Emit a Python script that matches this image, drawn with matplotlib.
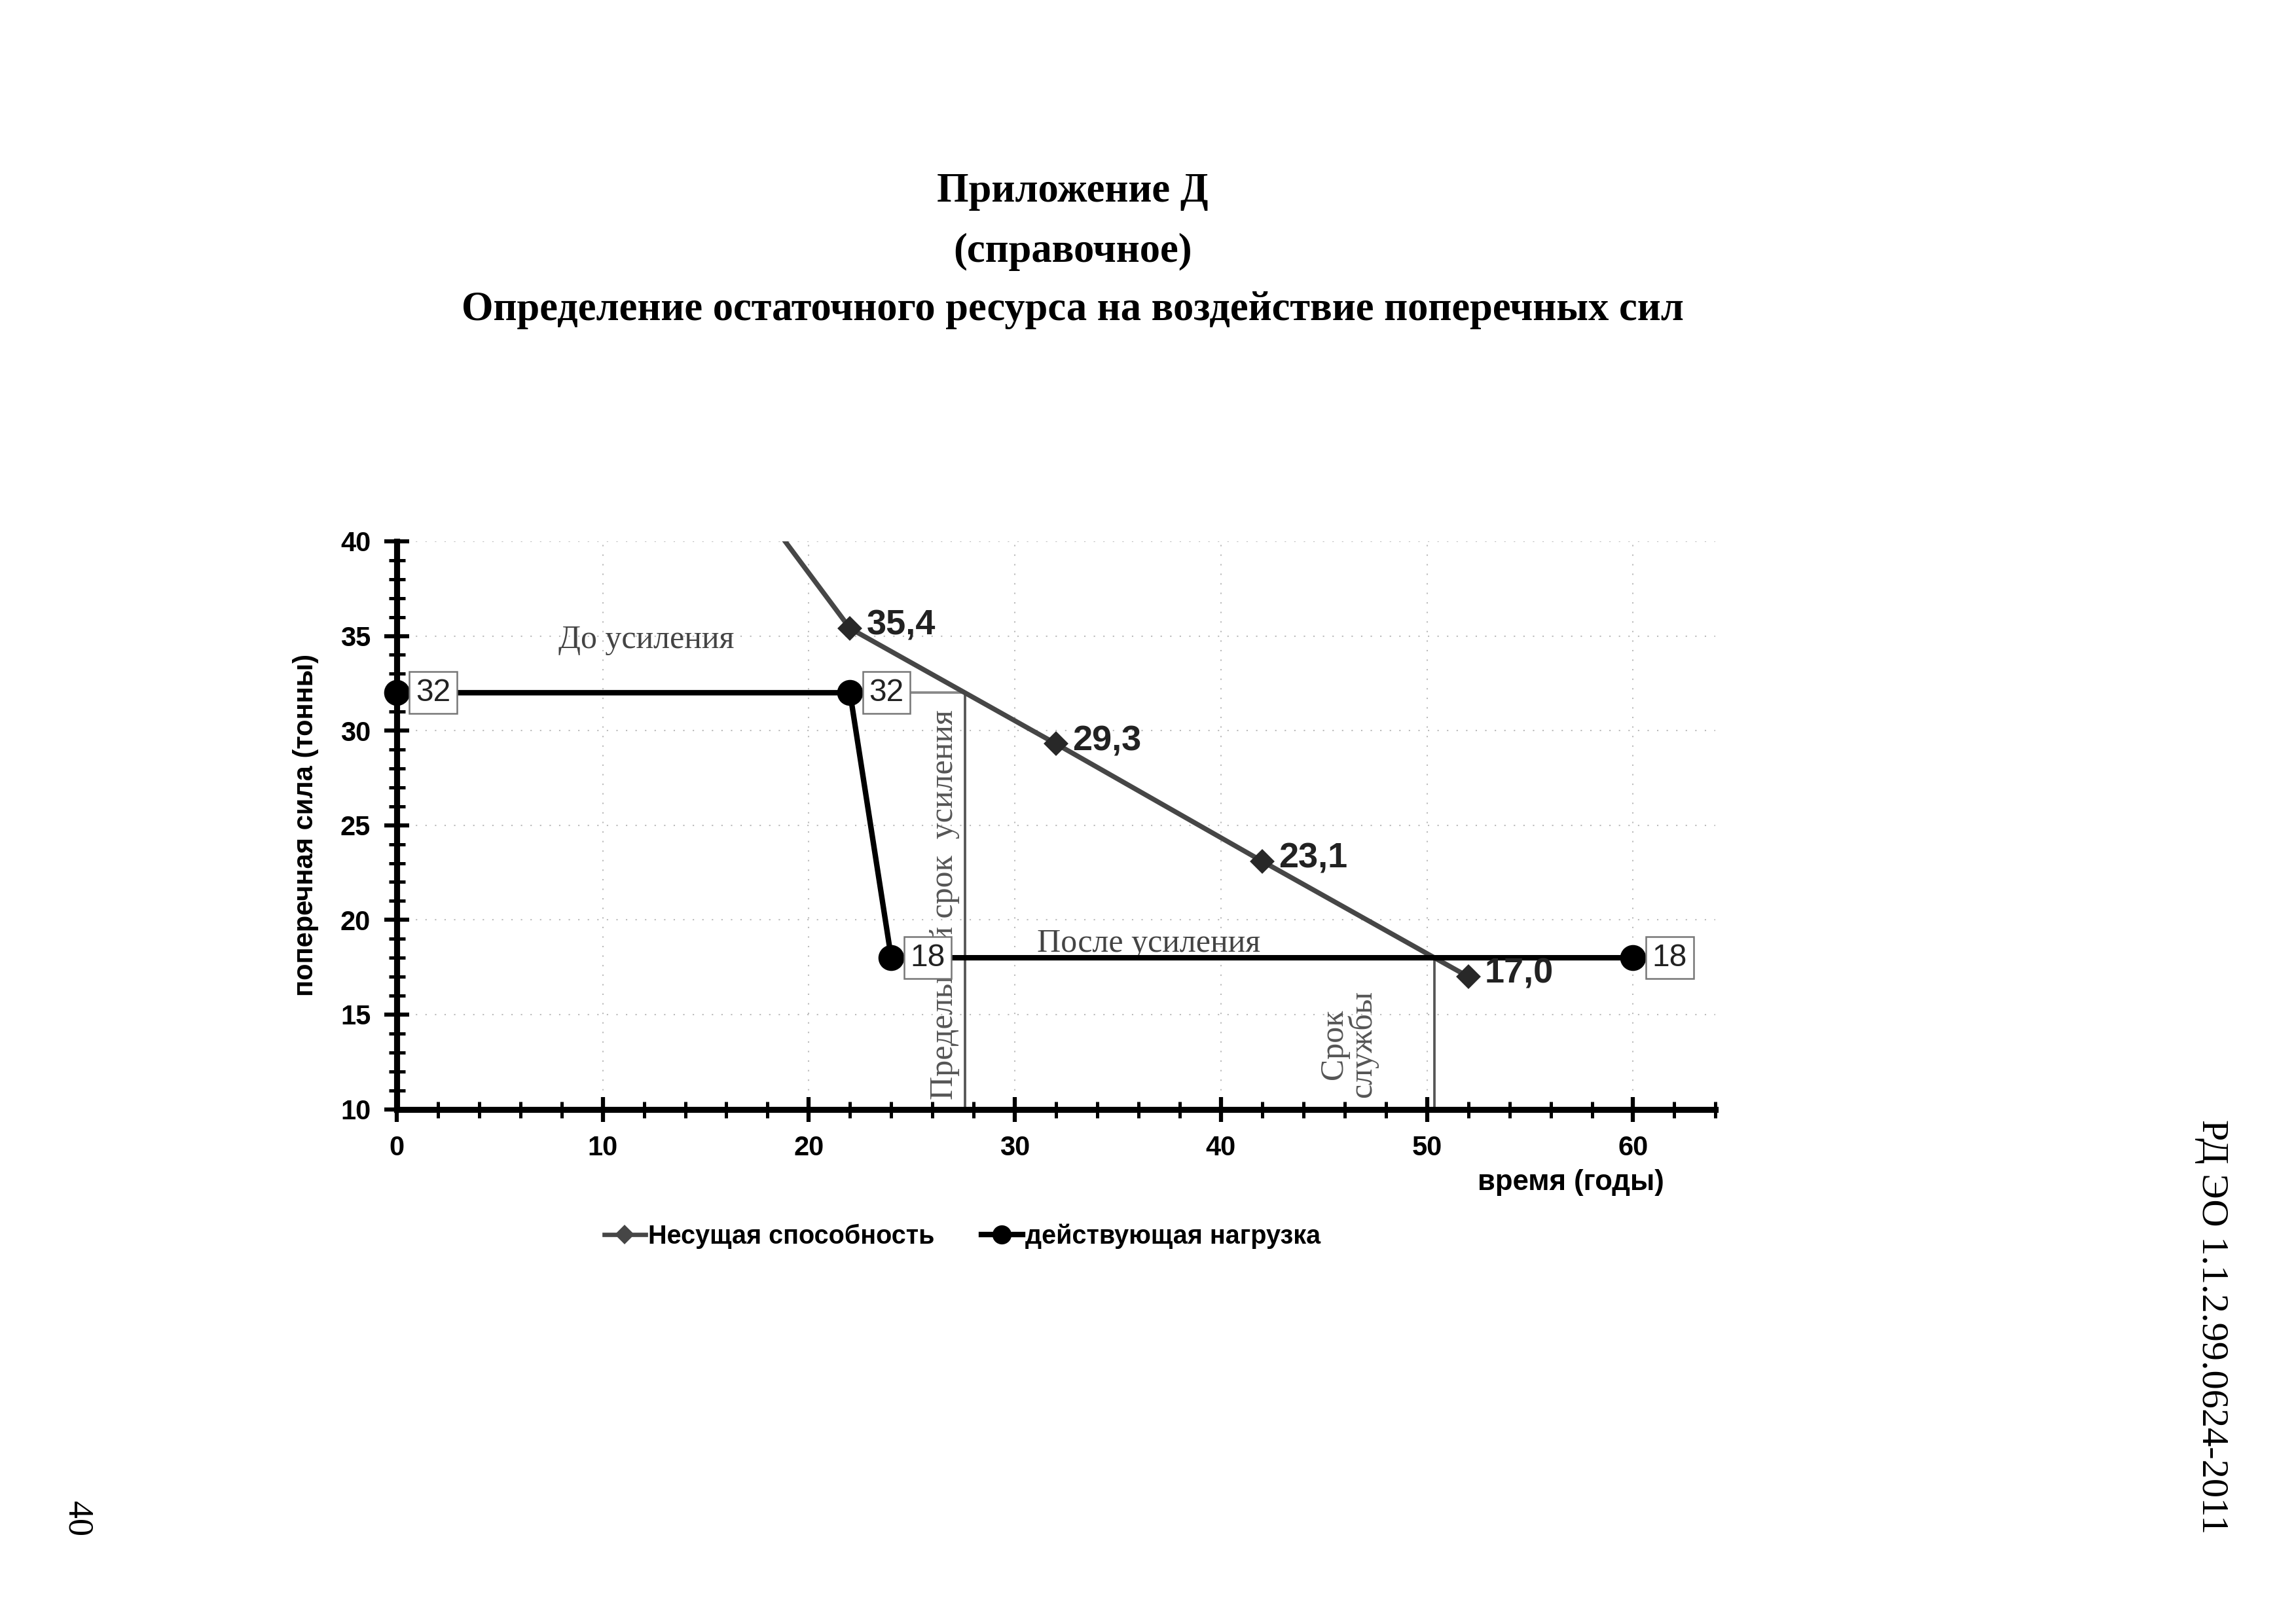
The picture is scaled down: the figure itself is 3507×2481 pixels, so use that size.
import numpy as np
import matplotlib.pyplot as plt
from matplotlib.ticker import MultipleLocator

# data
cap_x = [12, 22, 32, 42, 52]
cap_y = [50.0, 35.4, 29.3, 23.1, 17.0]
cap_lbl = ['', '35,4', '29,3', '23,1', '17,0']

load_x = [0, 22, 24, 60]
load_y = [32, 32, 18, 18]
load_lbl = ['32', '32', '18', '18']

sans = 'Liberation Sans'
serif = 'Liberation Serif'

fig = plt.figure(figsize=(11.693, 8.27), dpi=300)
ax = fig.add_axes([0.1727, 0.317, 0.5743, 0.3497])

# где несущая способность пересекает уровни нагрузки
def cross(level):
    for i in range(1, len(cap_x) - 1):
        x0, x1 = cap_x[i], cap_x[i + 1]
        y0, y1 = cap_y[i], cap_y[i + 1]
        if y1 <= level <= y0:
            return x0 + (y0 - level) * (x1 - x0) / (y0 - y1)
    return None

x32 = cross(load_y[0])
x18 = cross(load_y[-1])

# faint grid
for gx in range(10, 70, 10):
    ax.axvline(gx, color='#bbbbbb', lw=0.5, ls=(0, (1, 6)), zorder=0)
for gy in range(15, 45, 5):
    ax.axhline(gy, color='#bbbbbb', lw=0.5, ls=(0, (1, 6)), zorder=0)

# вспомогательные линии
ax.plot([x32, x32], [10, load_y[0]], color='#555555', lw=0.9, zorder=2)
ax.plot([load_x[1], x32], [load_y[1], load_y[1]], color='#888888', lw=0.9, zorder=2)
ax.plot([x18, x18], [10, load_y[-1]], color='#555555', lw=0.9, zorder=2)

ax.plot(cap_x, cap_y, color='#464646', lw=1.8, zorder=3)
ax.plot(cap_x[1:], cap_y[1:], ls='none', marker='D', ms=5.5, color='#282828', zorder=4)
ax.plot(load_x, load_y, color='black', lw=2.0, marker='o', ms=8.5, zorder=5, clip_on=False)

for x, y, t in zip(cap_x, cap_y, cap_lbl):
    if t:
        ax.annotate(t, (x, y), xytext=(6, 1), textcoords='offset points', ha='left', va='center',
                    fontsize=13, fontweight='bold', family=sans, color='#222222', zorder=6)

for x, y, t in zip(load_x, load_y, load_lbl):
    ax.annotate(t, (x, y), xytext=(7, 0), textcoords='offset points', ha='left', va='center',
                fontsize=11.5, family=sans, color='#222222', zorder=7,
                bbox=dict(boxstyle='square,pad=0.2', fc='white', ec='#777777', lw=0.6))

ax.text(12.1, 34.8, 'До усиления', family=serif, fontsize=12, color='#444444', ha='center', va='center')
ax.text(36.5, 18.75, 'После усиления', family=serif, fontsize=12, color='#444444', ha='center', va='center')
ax.text(26.6, 10.5, 'Предельный срок  усиления', family=serif, fontsize=12, color='#555555',
        rotation=90, ha='center', va='bottom', zorder=6)
ax.text(46.2, 10.6, 'Срок\nслужбы', family=serif, fontsize=12, color='#555555',
        rotation=90, ha='center', va='bottom', linespacing=0.9)

ax.set_xlim(0, 64)
ax.set_ylim(10, 40)
ax.xaxis.set_major_locator(MultipleLocator(10))
ax.xaxis.set_minor_locator(MultipleLocator(2))
ax.yaxis.set_major_locator(MultipleLocator(5))
ax.yaxis.set_minor_locator(MultipleLocator(1))
ax.tick_params(which='major', direction='inout', length=9, width=1.5)
ax.tick_params(which='minor', direction='inout', length=6, width=1.2)
ax.tick_params(axis='x', which='major', pad=5)
ax.tick_params(axis='y', which='major', pad=5)
for s in ['top', 'right']:
    ax.spines[s].set_visible(False)
for s in ['left', 'bottom']:
    ax.spines[s].set_linewidth(2.2)
for lab in ax.get_xticklabels() + ax.get_yticklabels():
    lab.set_fontfamily(sans)
    lab.set_fontweight('bold')
    lab.set_fontsize(10)

ax.set_ylabel('поперечная сила (тонны)', family=sans, fontweight='bold', fontsize=10, labelpad=8)
fig.text(0.684, 0.272, 'время (годы)', family=sans, fontweight='bold', fontsize=10.5, ha='center', va='center')

h1, = ax.plot([], [], color='#464646', lw=1.6, marker='D', ms=4)
h2, = ax.plot([], [], color='black', lw=2.0, marker='o', ms=6)
fig.legend([h1, h2], ['Несущая способность', 'действующая нагрузка'], loc='center',
           bbox_to_anchor=(0.419, 0.2386), ncol=2, frameon=False, handlelength=1.6,
           handletextpad=0.1, columnspacing=1.8,
           prop={'family': sans, 'weight': 'bold', 'size': 9.5})

fig.text(0.467, 0.882, 'Приложение Д', family=serif, fontweight='bold', fontsize=15, ha='center', va='center')
fig.text(0.467, 0.845, '(справочное)', family=serif, fontweight='bold', fontsize=15, ha='center', va='center')
fig.text(0.467, 0.809, 'Определение остаточного ресурса на воздействие поперечных сил', family=serif,
         fontweight='bold', fontsize=15, ha='center', va='center')

fig.text(0.963, 0.183, 'РД ЭО 1.1.2.99.0624-2011', family=serif, fontsize=14, rotation=-90,
         ha='center', va='center')
fig.text(0.0335, 0.0647, '40', family=serif, fontsize=13, rotation=-90, ha='center', va='center')

fig.savefig('out.png', dpi=300)
